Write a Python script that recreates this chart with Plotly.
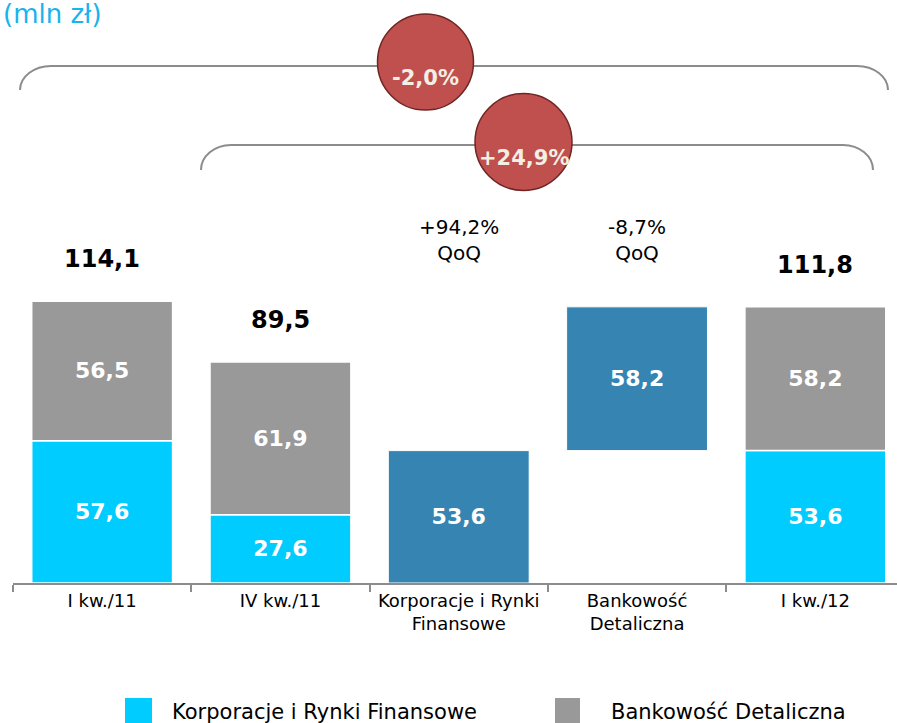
import plotly.graph_objects as go

# ---- data ----
categories = ["I kw./11", "IV kw./11", "Korporacje i Rynki<br>Finansowe", "Bankowość<br>Detaliczna", "I kw./12"]
corp_cats = ["I kw./11", "IV kw./11", "I kw./12"]
corp_values = [57.6, 27.6, 53.6]
retail_values = [56.5, 61.9, 58.2]
totals = [114.1, 89.5, 111.8]
change_cats = ["Korporacje i Rynki<br>Finansowe", "Bankowość<br>Detaliczna"]
change_values = [53.6, 58.2]
change_base = [0, 53.6]
qoq_labels = ["+94,2%<br>QoQ", "-8,7%<br>QoQ"]
bracket_labels = ["-2,0%", "+24,9%"]
legend_names = ["Korporacje i Rynki Finansowe", "Bankowość Detaliczna"]

CYAN = "#00CCFF"
GRAY = "#999999"
BLUE = "#3584B2"
FONT = "DejaVu Sans, Verdana, sans-serif"

def fmt(v):
    return f"{v:.1f}".replace(".", ",")

# geometry in screen pixels (page body margin removed via post_script)
W, H = 897, 723
PLOT_LEFT, PLOT_BOTTOM = 13, 583
L = PLOT_LEFT
T = 0
PH = PLOT_BOTTOM - T
B = H - T - PH
PW = W - L
CAT_W = 178.3
PX_PER_UNIT = 2.47

def px(x):
    return (x - PLOT_LEFT) / PW

def py(y):
    return (PLOT_BOTTOM - y) / PH

fig = go.Figure()

lbl_font = dict(family=FONT, size=22, color="white", weight="bold")
fig.add_trace(go.Bar(
    x=corp_cats, y=corp_values, base=[0] * len(corp_values),
    name=legend_names[0], marker=dict(color=CYAN, line=dict(color="white", width=1.5)),
    text=[fmt(v) for v in corp_values], textposition="inside", insidetextanchor="middle",
    textfont=lbl_font, width=0.79,
))
fig.add_trace(go.Bar(
    x=corp_cats, y=retail_values, base=corp_values,
    name=legend_names[1], marker=dict(color=GRAY, line=dict(color="white", width=1.5)),
    text=[fmt(v) for v in retail_values], textposition="inside", insidetextanchor="middle",
    textfont=lbl_font, width=0.79,
))
fig.add_trace(go.Bar(
    x=change_cats, y=change_values, base=change_base,
    name="zmiana", marker=dict(color=BLUE, line=dict(color="white", width=1)),
    text=[fmt(v) for v in change_values], textposition="inside", insidetextanchor="middle",
    textfont=lbl_font, width=0.79, showlegend=False,
))

annotations = []
for c, t in zip(corp_cats, totals):
    annotations.append(dict(x=c, y=t, xref="x", yref="y", text=fmt(t), showarrow=False,
                            yshift=42, font=dict(family=FONT, size=24, color="black", weight="bold")))
for c, q in zip(change_cats, qoq_labels):
    annotations.append(dict(x=c, y=py(240), xref="x", yref="paper", text=q, showarrow=False,
                            font=dict(family=FONT, size=20, color="black"), yanchor="middle"))

shapes = []

def bracket(x0, x1, ytop, ybot, rx=30):
    ry = ybot - ytop
    k = 0.55
    pts = [
        ("M", [(x0, ybot)]),
        ("C", [(x0, ybot - ry * k), (x0 + rx - rx * k, ytop), (x0 + rx, ytop)]),
        ("L", [(x1 - rx, ytop)]),
        ("C", [(x1 - rx + rx * k, ytop), (x1, ybot - ry * k), (x1, ybot)]),
    ]
    s = ""
    for cmd, ps in pts:
        s += cmd + " " + " ".join(f"{px(a):.5f},{py(b):.5f}" for a, b in ps) + " "
    return dict(type="path", path=s.strip(), xref="paper", yref="paper",
                line=dict(color="#8C8C8C", width=2), layer="above")

shapes.append(bracket(20, 888, 66, 90, rx=31))
shapes.append(bracket(201, 873, 145, 170, rx=30))

circles = [(425.5, 62, 48), (523.5, 142, 48.5)]
for (cx, cy, r), lab in zip(circles, bracket_labels):
    shapes.append(dict(type="circle", xref="paper", yref="paper",
                       x0=px(cx - r), x1=px(cx + r), y0=py(cy + r), y1=py(cy - r),
                       fillcolor="#C0504D", line=dict(color="#6E2524", width=1.5), layer="above"))
    annotations.append(dict(x=px(cx), y=py(cy + 2), xref="paper", yref="paper", text=lab, showarrow=False,
                            font=dict(family=FONT, size=21, color="#F2EFE4", weight="bold")))

leg = [(125, 152, CYAN, 170), (555, 580, GRAY, 609)]
for (x0, x1, col, tx), name in zip(leg, legend_names):
    shapes.append(dict(type="rect", xref="paper", yref="paper",
                       x0=px(x0), x1=px(x1), y0=py(726), y1=py(698),
                       fillcolor=col, line=dict(width=0)))
    annotations.append(dict(x=px(tx), y=py(712), xref="paper", yref="paper", text=name, showarrow=False,
                            xanchor="left", yanchor="middle",
                            font=dict(family=FONT, size=21, color="black")))

annotations.append(dict(x=px(1), y=py(14), xref="paper", yref="paper", text="(mln zł)", showarrow=False,
                        xanchor="left", yanchor="middle", font=dict(family=FONT, size=26, color="#1AB3EC")))

fig.update_layout(
    width=W, height=H,
    margin=dict(l=L, r=0, t=T, b=B),
    paper_bgcolor="white", plot_bgcolor="white",
    barmode="overlay", showlegend=False,
    shapes=shapes, annotations=annotations,
    font=dict(family=FONT),
)
fig.update_xaxes(
    categoryorder="array", categoryarray=categories,
    range=[-0.5, -0.5 + PW / CAT_W],
    showline=True, linecolor="#8C8C8C", linewidth=2,
    ticks="outside", tickson="boundaries", ticklen=7, tickcolor="#8C8C8C", tickwidth=2,
    tickfont=dict(family=FONT, size=18, color="black"),
    showgrid=False, zeroline=False, fixedrange=True,
)
fig.update_yaxes(range=[0, PH / PX_PER_UNIT], visible=False, showgrid=False, zeroline=False)

fig.write_html("out.html",
               config={"displayModeBar": False},
               post_script="document.body.style.margin='0';document.body.style.overflow='hidden';")
